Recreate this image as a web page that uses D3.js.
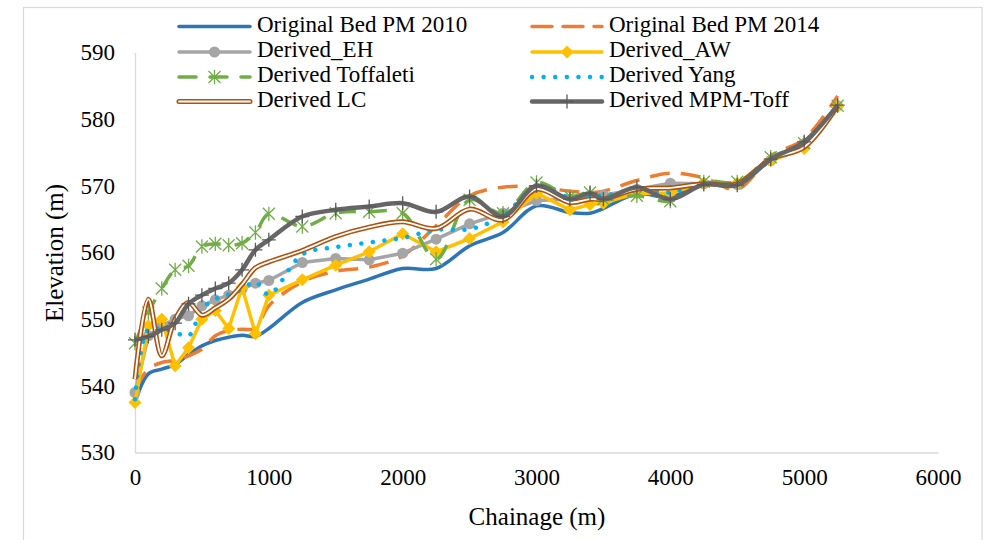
<!DOCTYPE html>
<html><head><meta charset="utf-8">
<script src="https://cdn.jsdelivr.net/npm/d3@7/dist/d3.min.js"></script>
<style>body{margin:0;background:#fff}svg{display:block}</style>
</head><body><svg id="c" width="987" height="540"></svg>
<script>
const chainage = [0,100,200,300,400,500,600,700,800,900,1000,1250,1500,1750,2000,2250,2500,2750,3000,3250,3400,3500,3750,4000,4250,4500,4750,5000,5250];
const pm2010 = [537.5,541.8,542.5,543.2,544.7,546.0,546.8,547.3,547.6,547.4,548.6,552.5,554.4,556.0,557.6,557.6,561.0,563.0,567.0,566.0,565.9,566.6,568.8,568.3,570.5,570.2,573.8,576.0,582.0];
const pm2014 = [539.5,542.5,543.5,543.8,544.5,545.5,547.5,548.3,548.5,548.6,552.0,555.6,557.2,557.8,559.5,564.0,568.5,569.8,569.8,569.2,569.0,569.2,570.8,571.9,571.2,569.5,574.5,577.0,583.5];
const derivedEH = [539.0,547.5,549.0,550.0,550.5,552.0,552.9,553.6,554.5,555.4,555.8,558.5,559.1,558.9,559.9,562.0,564.3,565.9,567.8,568.0,568.3,568.6,569.5,570.4,570.3,570.2,573.8,576.3,582.0];
const derivedAW = [537.5,549.0,550.0,543.0,545.7,550.0,551.3,548.6,554.8,547.8,553.6,555.9,558.1,560.1,562.8,560.1,562.1,564.6,568.9,566.4,567.2,567.4,568.9,568.9,570.4,570.4,573.8,575.6,581.9];
const derivedToff = [546.4,551.0,554.6,557.4,558.0,560.9,561.3,561.1,561.4,563.0,565.8,563.9,565.9,566.1,565.9,559.0,567.9,565.9,570.5,568.4,569.0,568.0,568.5,567.7,570.6,570.6,574.3,576.4,582.0];
const derivedYang = [538.0,548.5,548.5,548.0,547.5,551.5,553.0,553.7,554.5,555.6,553.7,559.7,560.8,561.5,562.2,563.4,563.5,565.5,569.8,568.3,568.6,568.5,569.5,569.0,570.4,570.3,573.8,576.0,582.0];
const derivedLC = [541.0,553.0,544.5,550.0,552.5,550.6,551.7,553.0,555.2,557.7,558.6,560.3,562.4,563.8,564.6,563.6,566.5,564.9,569.5,567.5,568.0,568.0,569.5,569.7,570.3,570.3,574.0,575.8,582.0];
const derivedMPM = [546.9,547.4,548.4,549.4,552.3,553.6,554.6,555.4,557.4,560.4,561.9,565.4,566.4,566.9,567.4,566.1,568.4,565.4,570.0,568.0,568.9,568.0,569.8,568.0,570.2,570.1,574.0,576.6,582.1];
const xTicks = [0,1000,2000,3000,4000,5000,6000];
const yTicks = [530,540,550,560,570,580,590];
const seriesNames = ["Original Bed PM 2010","Original Bed PM 2014","Derived_EH","Derived_AW","Derived Toffaleti","Derived Yang","Derived LC","Derived MPM-Toff"];

const FONT = "'Liberation Serif', Tinos, 'Times New Roman', 'DejaVu Serif', serif";
const svg = d3.select("#c");
svg.append("rect").attr("x",0).attr("y",0).attr("width",987).attr("height",540).attr("fill","#fff");
svg.append("rect").attr("x",23.5).attr("y",7.5).attr("width",958.5).attr("height",560).attr("fill","none").attr("stroke","#D9D9D9").attr("stroke-width",1.2);

const x = d3.scaleLinear().domain([0,6000]).range([135,938]);
const y = d3.scaleLinear().domain([530,590]).range([452.5,52.5]);

const xAx = svg.append("g").attr("transform","translate(0,452.5)")
  .call(d3.axisBottom(x).tickValues(xTicks).tickSize(0).tickPadding(20).tickFormat(d3.format("d")));
xAx.attr("font-family",null).attr("font-size",null);
xAx.select(".domain").attr("stroke","#D9D9D9").attr("stroke-width",1.3);
xAx.selectAll("text").style("font-family",FONT).style("font-size","23px").attr("fill","#000").attr("dy","0.55em");
const yAx = svg.append("g").attr("transform","translate(135,0)")
  .call(d3.axisLeft(y).tickValues(yTicks).tickSize(0).tickPadding(20).tickFormat(d3.format("d")));
yAx.attr("font-family",null).attr("font-size",null);
yAx.select(".domain").attr("stroke","#D9D9D9").attr("stroke-width",1.3);
yAx.selectAll("text").style("font-family",FONT).style("font-size","23px").attr("fill","#000");

svg.append("text").attr("x",537).attr("y",519).attr("text-anchor","middle").attr("dominant-baseline","middle")
  .style("font-family",FONT).style("font-size","25px").attr("fill","#000").text("Chainage (m)");
svg.append("text").attr("transform","translate(57,253) rotate(-90)").attr("text-anchor","middle").attr("dominant-baseline","middle")
  .style("font-family",FONT).style("font-size","25px").attr("fill","#000").text("Elevation (m)");

const pts = arr => arr.map((v,i)=>[chainage[i],v]);
const smooth = d3.line().x(d=>x(d[0])).y(d=>y(d[1])).curve(d3.curveCatmullRom.alpha(0.5));
const straight = d3.line().x(d=>x(d[0])).y(d=>y(d[1]));

const plot = svg.append("g");
function path(gen, data, attrs){
  const p = plot.append("path").attr("d",gen(pts(data))).attr("fill","none").attr("stroke-linejoin","round");
  for(const k in attrs) p.attr(k,attrs[k]);
  return p;
}
const C = {blue:"#2E75B6",orange:"#ED7D31",gray:"#A5A5A5",gold:"#FFC000",green:"#70AD47",cyan:"#00B0F0",brown:"#B0520F",dark:"#666666"};

function starPath(s){return `M${-s},${-s}L${s},${s}M${-s},${s}L${s},${-s}M0,${-s*1.2}L0,${s*1.2}`;}
function plusPath(s){return `M${-s},0L${s},0M0,${-s}L0,${s}`;}
function diamondPath(s){return `M0,${-s}L${s},0L0,${s}L${-s},0Z`;}

path(smooth, pm2010, {stroke:C.blue,"stroke-width":3.5});
path(smooth, pm2014, {stroke:C.orange,"stroke-width":3.5,"stroke-dasharray":"20,11"});
path(straight, derivedEH, {stroke:C.gray,"stroke-width":3.5});
plot.append("g").selectAll("circle").data(pts(derivedEH)).join("circle")
  .attr("cx",d=>x(d[0])).attr("cy",d=>y(d[1])).attr("r",5.5).attr("fill",C.gray);
path(straight, derivedAW, {stroke:C.gold,"stroke-width":3.5});
plot.append("g").selectAll("path").data(pts(derivedAW)).join("path")
  .attr("transform",d=>`translate(${x(d[0])},${y(d[1])})`).attr("d",diamondPath(6.5)).attr("fill",C.gold);
path(smooth, derivedToff, {stroke:C.green,"stroke-width":3.5,"stroke-dasharray":"17,14"});
plot.append("g").selectAll("path").data(pts(derivedToff)).join("path")
  .attr("transform",d=>`translate(${x(d[0])},${y(d[1])})`).attr("d",starPath(6)).attr("stroke",C.green).attr("stroke-width",1.3).attr("fill","none");
path(smooth, derivedYang, {stroke:C.cyan,"stroke-width":4.5,"stroke-dasharray":"0.01,11.6","stroke-linecap":"round"});
path(smooth, derivedLC, {stroke:C.brown,"stroke-width":5});
path(smooth, derivedLC, {stroke:"#fff","stroke-width":1.8});
path(smooth, derivedMPM, {stroke:C.dark,"stroke-width":4.5});
plot.append("g").selectAll("path").data(pts(derivedMPM)).join("path")
  .attr("transform",d=>`translate(${x(d[0])},${y(d[1])})`).attr("d",plusPath(7)).attr("stroke","#5A5A5A").attr("stroke-width",1.3).attr("fill","none");

const rows=[26.5,52,77,101.5];
const cols=[[179,250,257],[532,602,609]];
const leg = svg.append("g");
function legLine(ci,ri,attrs){
  const [a,b]=cols[ci]; const yy=rows[ri];
  const l=leg.append("line").attr("x1",a).attr("x2",b).attr("y1",yy).attr("y2",yy);
  for(const k in attrs) l.attr(k,attrs[k]);
}
function legText(ci,ri,t){
  leg.append("text").attr("x",cols[ci][2]).attr("y",rows[ri]).attr("dominant-baseline","middle")
    .style("font-family",FONT).style("font-size","23px").attr("fill","#000").text(t);
}
const mid = ci => (cols[ci][0]+cols[ci][1])/2;
legLine(0,0,{stroke:C.blue,"stroke-width":3.5,"stroke-linecap":"round"});
legText(0,0,seriesNames[0]);
legLine(1,0,{stroke:C.orange,"stroke-width":3.5,"stroke-dasharray":"20,11","stroke-linecap":"round"});
legText(1,0,seriesNames[1]);
legLine(0,1,{stroke:C.gray,"stroke-width":3.5,"stroke-linecap":"round"});
leg.append("circle").attr("cx",mid(0)).attr("cy",rows[1]).attr("r",5.5).attr("fill",C.gray);
legText(0,1,seriesNames[2]);
legLine(1,1,{stroke:C.gold,"stroke-width":3.5,"stroke-linecap":"round"});
leg.append("path").attr("transform",`translate(${mid(1)},${rows[1]})`).attr("d",diamondPath(6.5)).attr("fill",C.gold);
legText(1,1,seriesNames[3]);
legLine(0,2,{stroke:C.green,"stroke-width":3.5,"stroke-dasharray":"17,14","stroke-linecap":"round"});
leg.append("path").attr("transform",`translate(${mid(0)},${rows[2]})`).attr("d",starPath(6)).attr("stroke",C.green).attr("stroke-width",1.3);
legText(0,2,seriesNames[4]);
legLine(1,2,{stroke:C.cyan,"stroke-width":4.5,"stroke-dasharray":"0.01,11.6","stroke-linecap":"round"});
legText(1,2,seriesNames[5]);
legLine(0,3,{stroke:C.brown,"stroke-width":5,"stroke-linecap":"round"});
legLine(0,3,{stroke:"#fff","stroke-width":1.8,"stroke-linecap":"round"});
legText(0,3,seriesNames[6]);
legLine(1,3,{stroke:C.dark,"stroke-width":4.5,"stroke-linecap":"round"});
leg.append("path").attr("transform",`translate(${mid(1)},${rows[3]})`).attr("d",plusPath(7)).attr("stroke","#5A5A5A").attr("stroke-width",1.3);
legText(1,3,seriesNames[7]);
</script></body></html>
